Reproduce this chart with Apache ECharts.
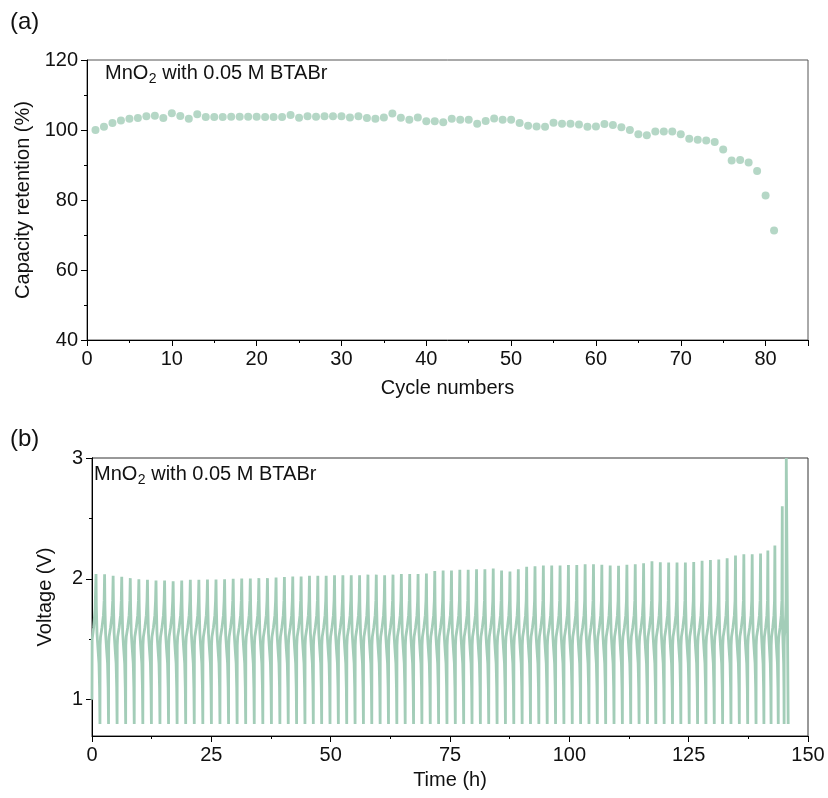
<!DOCTYPE html>
<html><head><meta charset="utf-8">
<script src="https://cdn.jsdelivr.net/npm/echarts@6/dist/echarts.min.js"></script>
<style>html,body{margin:0;padding:0;background:#fff}#c{width:828px;height:798px}</style>
</head><body><div id="c"></div>
<script>
// ---------- (a) capacity retention ----------
const cycleNumbers = [1,2,3,4,5,6,7,8,9,10,11,12,13,14,15,16,17,18,19,20,21,22,23,24,25,26,27,28,29,30,31,32,33,34,35,36,37,38,39,40,41,42,43,44,45,46,47,48,49,50,51,52,53,54,55,56,57,58,59,60,61,62,63,64,65,66,67,68,69,70,71,72,73,74,75,76,77,78,79,80,81];
const capacityRetention = [100.0,100.9,102.0,102.7,103.2,103.4,103.9,104.1,103.4,104.8,104.0,103.2,104.5,103.7,103.7,103.7,103.8,103.8,103.8,103.8,103.7,103.7,103.7,104.3,103.5,103.9,103.8,103.9,103.9,103.9,103.6,103.9,103.4,103.2,103.6,104.7,103.5,102.9,103.6,102.5,102.5,102.2,103.2,102.9,102.9,101.8,102.6,103.3,102.9,102.95,102.0,101.2,101.0,100.95,102.1,101.8,101.8,101.6,100.95,101.0,101.7,101.4,100.8,100.0,98.8,98.5,99.6,99.6,99.6,98.8,97.5,97.2,97.0,96.6,94.4,91.3,91.4,90.7,88.3,81.3,71.3];

// ---------- (b) voltage profile ----------
const peakTimes = [0.84,2.64,4.43,6.23,8.02,9.82,11.62,13.41,15.21,17.0,18.8,20.6,22.39,24.19,25.98,27.78,29.58,31.37,33.17,34.96,36.76,38.56,
  40.31,42.06,43.81,45.56,47.31,49.06,50.81,52.56,54.31,
  56.06,57.81,59.56,61.31,63.06,64.81,66.56,68.31,70.06,71.81,
  73.56,75.31,77.06,78.81,80.56,82.31,84.06,85.81,87.56,89.31,
  91.06,92.81,94.56,96.31,98.06,99.81,101.56,103.31,105.06,106.81,
  108.56,110.31,112.06,113.81,115.56,117.31,119.06,120.81,122.56,124.31,
  126.06,127.81,129.56,131.31,133.06,134.81,136.56,138.31,140.06,
  141.59,143.06,144.61,145.45];
const peakVolts = [2.041,2.039,2.025,2.017,2.006,1.997,1.992,1.986,1.986,1.981,1.986,1.992,1.992,1.995,1.995,1.997,2.0,2.003,2.003,2.006,2.006,2.011,
  2.015,2.02,2.02,2.025,2.025,2.025,2.03,2.03,2.03,2.03,2.035,2.035,2.03,2.035,2.04,2.04,2.04,2.045,
  2.065,2.07,2.07,2.075,2.075,2.08,2.08,2.085,2.07,2.06,2.08,2.1,2.105,
  2.11,2.11,2.11,2.115,2.115,2.12,2.12,
  2.116,2.11,2.108,2.116,2.12,2.13,2.146,2.138,2.135,2.135,2.135,2.14,2.15,2.157,2.16,2.171,2.193,2.204,2.204,2.21,
  2.235,2.276,2.6,3.0];
const initialPoints = [[0,1.0],[0.03,1.5],[0.35,1.6],[0.65,1.75]];
const dischargeShape = [[0.08,1.78],[0.25,1.55],[0.5,1.42],[0.75,1.3],[0.9,1.1],[1,0.8]];
const chargeShape = [[0.03,1.45],[0.12,1.52],[0.45,1.6],[0.75,1.7],[0.9,1.82]];
const dischargeShare = 0.46;
const tailPoints = [[145.75,3.0],[145.85,0.8]];

const capTicks = {min:40,max:120,step:20};
const cycTicks = {min:0,max:85,step:10};
const timeTicks = {min:0,max:150,step:25};
const voltRange = {min:0.7,max:3};
const voltLabels = [1,2,3];
const voltMinor = [1.5,2.5];

// build voltage series from the read values
const voltage = initialPoints.slice();
voltage.push([peakTimes[0], peakVolts[0]]);
for (let i = 0; i < peakTimes.length - 1; i++) {
  const t0 = peakTimes[i], T = peakTimes[i+1] - t0;
  const D = dischargeShare * T, C = T - D;
  dischargeShape.forEach(([f,v]) => voltage.push([t0 + f*D, v]));
  chargeShape.forEach(([f,v]) => voltage.push([t0 + D + f*C, v]));
  voltage.push([peakTimes[i+1], peakVolts[i+1]]);
}
tailPoints.forEach(p => voltage.push(p));

const FONT = "'Liberation Sans', Arial, sans-serif";
const GREEN = '#a3cdb8';
const TXT = '#111';

const mctx = document.createElement('canvas').getContext('2d');
function tw(s, size){ mctx.font = size + "px 'Liberation Sans', Arial, sans-serif"; return mctx.measureText(s).width; }

function annotation(x, y){
  const w1 = tw('MnO', 20), w2 = tw('2', 14);
  return [
    {type:'text',x:x,y:y,style:{text:'MnO',fontSize:20,fontFamily:FONT,fill:TXT,verticalAlign:'top'}},
    {type:'text',x:x+w1+0.5,y:y+9,style:{text:'2',fontSize:14,fontFamily:FONT,fill:TXT,verticalAlign:'top'}},
    {type:'text',x:x+w1+w2+0.5,y:y,style:{text:' with 0.05 M BTABr',fontSize:20,fontFamily:FONT,fill:TXT,verticalAlign:'top'}}
  ];
}

const chart = echarts.init(document.getElementById('c'), null, {renderer:'canvas'});
const axisCommon = {
  axisLine:{show:true,onZero:false,lineStyle:{color:'#000',width:1}},
  axisTick:{show:true,inside:false,length:6,lineStyle:{color:'#000'}},
  minorTick:{show:true,splitNumber:2,length:3,lineStyle:{color:'#000'}},
  splitLine:{show:false},
  axisLabel:{fontSize:20,color:TXT,fontFamily:FONT,margin:9},
  nameTextStyle:{fontSize:20,color:TXT,fontFamily:FONT},
  nameLocation:'middle'
};

chart.setOption({
  animation:false,
  backgroundColor:'#fff',
  grid:[
    {left:87,top:60,width:721,height:280,show:true,borderColor:'#555',borderWidth:1,backgroundColor:'transparent'},
    {left:92,top:458,width:716,height:278,show:true,borderColor:'#333',borderWidth:1,backgroundColor:'transparent'}
  ],
  xAxis:[
    Object.assign({}, axisCommon, {type:'value',gridIndex:0,min:cycTicks.min,max:cycTicks.max,interval:cycTicks.step,
      name:'Cycle numbers',nameGap:38,axisLabel:Object.assign({},axisCommon.axisLabel,{showMaxLabel:false})}),
    Object.assign({}, axisCommon, {type:'value',gridIndex:1,min:timeTicks.min,max:timeTicks.max,interval:timeTicks.step,
      name:'Time (h)',nameGap:34})
  ],
  yAxis:[
    Object.assign({}, axisCommon, {type:'value',gridIndex:0,min:capTicks.min,max:capTicks.max,interval:capTicks.step,
      name:'Capacity retention (%)',nameGap:48}),
    Object.assign({}, axisCommon, {type:'value',gridIndex:1,min:voltRange.min,max:voltRange.max,
      minorTick:{show:false},
      axisTick:Object.assign({},axisCommon.axisTick,{customValues:voltLabels}),
      axisLabel:Object.assign({},axisCommon.axisLabel,{customValues:voltLabels}),
      name:'Voltage (V)',nameGap:37}),
    Object.assign({}, axisCommon, {type:'value',gridIndex:1,min:voltRange.min,max:voltRange.max,position:'left',
      minorTick:{show:false},
      axisTick:Object.assign({},axisCommon.axisTick,{length:3,customValues:voltMinor}),
      axisLabel:{show:false}})
  ],
  series:[
    {type:'scatter',xAxisIndex:0,yAxisIndex:0,symbol:'circle',symbolSize:8,
      itemStyle:{color:GREEN},data:cycleNumbers.map((c,i)=>[c,capacityRetention[i]])},
    {type:'line',xAxisIndex:1,yAxisIndex:1,showSymbol:false,symbol:'none',
      lineStyle:{color:GREEN,width:2.8},data:voltage}
  ],
  graphic:[
    {type:'text',left:10,top:10,style:{text:'(a)',fontSize:24,fontFamily:FONT,fill:TXT}},
    {type:'text',left:10,top:427,style:{text:'(b)',fontSize:24,fontFamily:FONT,fill:TXT}}
  ].concat(annotation(105,63), annotation(94,464))
});
</script></body></html>
